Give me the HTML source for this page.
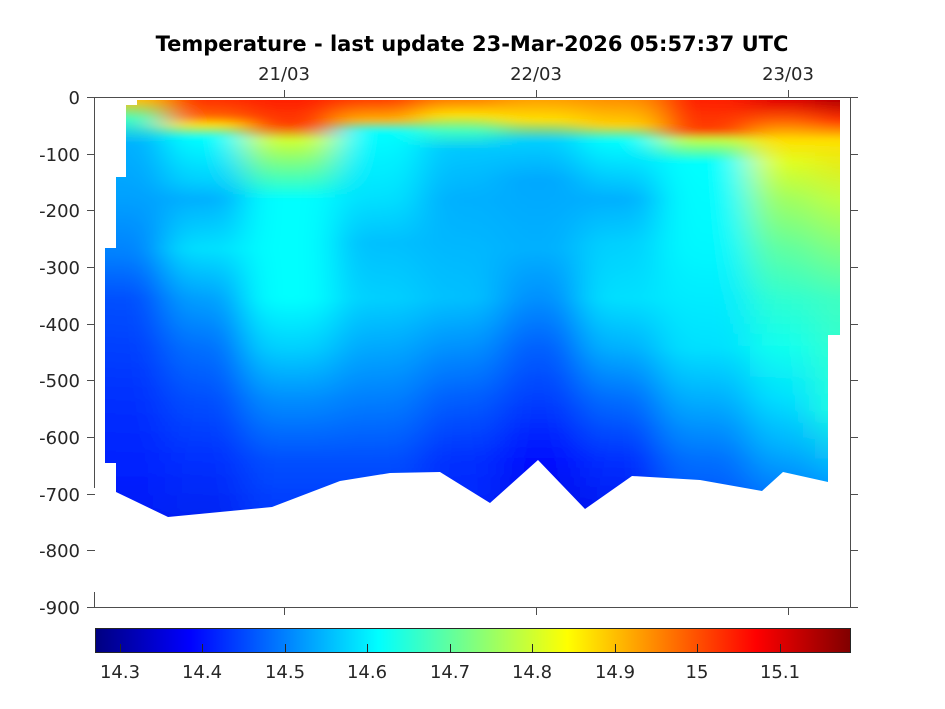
<!DOCTYPE html>
<html><head><meta charset="utf-8"><style>
html,body{margin:0;padding:0;background:#fff;}
svg{display:block;font-family:"DejaVu Sans","Liberation Sans",sans-serif;}
</style></head><body>
<svg width="945" height="709" viewBox="0 0 945 709" xmlns="http://www.w3.org/2000/svg">
<defs>
<linearGradient id="c0" x1="0" y1="100" x2="0" y2="720" gradientUnits="userSpaceOnUse">
<stop offset="0" stop-color="#ffc000"/><stop offset="0.03" stop-color="#40ffc0"/><stop offset="0.07" stop-color="#00b0ff"/><stop offset="0.16" stop-color="#00a0ff"/><stop offset="0.25" stop-color="#0080ff"/><stop offset="0.32" stop-color="#0050ff"/><stop offset="0.48" stop-color="#0030ff"/><stop offset="0.6" stop-color="#0020ff"/><stop offset="0.75" stop-color="#0010f0"/><stop offset="1" stop-color="#0000d0"/></linearGradient>
<linearGradient id="c1" x1="0" y1="100" x2="0" y2="720" gradientUnits="userSpaceOnUse">
<stop offset="0" stop-color="#ff3000"/><stop offset="0.025" stop-color="#ff6000"/><stop offset="0.04" stop-color="#ffe000"/><stop offset="0.06" stop-color="#00ffff"/><stop offset="0.13" stop-color="#00d0ff"/><stop offset="0.16" stop-color="#00b0ff"/><stop offset="0.24" stop-color="#00e0ff"/><stop offset="0.32" stop-color="#00a0ff"/><stop offset="0.4" stop-color="#0070ff"/><stop offset="0.48" stop-color="#0050ff"/><stop offset="0.58" stop-color="#0030ff"/><stop offset="0.7" stop-color="#0020f0"/><stop offset="1" stop-color="#0000c0"/></linearGradient>
<linearGradient id="c2" x1="0" y1="100" x2="0" y2="720" gradientUnits="userSpaceOnUse">
<stop offset="0" stop-color="#ff2000"/><stop offset="0.04" stop-color="#ff4000"/><stop offset="0.065" stop-color="#d0ff30"/><stop offset="0.1" stop-color="#80ff80"/><stop offset="0.16" stop-color="#00ffff"/><stop offset="0.32" stop-color="#00ffff"/><stop offset="0.4" stop-color="#00d0ff"/><stop offset="0.48" stop-color="#0090ff"/><stop offset="0.58" stop-color="#0050ff"/><stop offset="0.7" stop-color="#0030ff"/><stop offset="1" stop-color="#0010e0"/></linearGradient>
<linearGradient id="c3" x1="0" y1="100" x2="0" y2="720" gradientUnits="userSpaceOnUse">
<stop offset="0" stop-color="#ff4000"/><stop offset="0.032" stop-color="#ffb000"/><stop offset="0.05" stop-color="#00ffff"/><stop offset="0.16" stop-color="#00e0ff"/><stop offset="0.23" stop-color="#00c0ff"/><stop offset="0.32" stop-color="#00d0ff"/><stop offset="0.48" stop-color="#0080ff"/><stop offset="0.58" stop-color="#0050ff"/><stop offset="0.7" stop-color="#0030ff"/><stop offset="1" stop-color="#0010e0"/></linearGradient>
<linearGradient id="c4" x1="0" y1="100" x2="0" y2="720" gradientUnits="userSpaceOnUse">
<stop offset="0" stop-color="#ff8000"/><stop offset="0.024" stop-color="#ffe000"/><stop offset="0.05" stop-color="#40ffc0"/><stop offset="0.08" stop-color="#00c8ff"/><stop offset="0.16" stop-color="#00b0ff"/><stop offset="0.32" stop-color="#00c0ff"/><stop offset="0.4" stop-color="#0090ff"/><stop offset="0.48" stop-color="#0060ff"/><stop offset="0.58" stop-color="#0030ff"/><stop offset="0.7" stop-color="#0020ff"/><stop offset="1" stop-color="#0000c0"/></linearGradient>
<linearGradient id="c5" x1="0" y1="100" x2="0" y2="720" gradientUnits="userSpaceOnUse">
<stop offset="0" stop-color="#ffa000"/><stop offset="0.032" stop-color="#ffe000"/><stop offset="0.065" stop-color="#00d0ff"/><stop offset="0.13" stop-color="#00a8ff"/><stop offset="0.24" stop-color="#00b0ff"/><stop offset="0.32" stop-color="#0090ff"/><stop offset="0.4" stop-color="#0060ff"/><stop offset="0.48" stop-color="#0040ff"/><stop offset="0.58" stop-color="#0010ff"/><stop offset="0.7" stop-color="#0000e0"/><stop offset="1" stop-color="#000080"/></linearGradient>
<linearGradient id="c6" x1="0" y1="100" x2="0" y2="720" gradientUnits="userSpaceOnUse">
<stop offset="0" stop-color="#ff9000"/><stop offset="0.04" stop-color="#ffd000"/><stop offset="0.065" stop-color="#00ffff"/><stop offset="0.16" stop-color="#00b0ff"/><stop offset="0.23" stop-color="#00d0ff"/><stop offset="0.32" stop-color="#00e0ff"/><stop offset="0.4" stop-color="#00b0ff"/><stop offset="0.48" stop-color="#0070ff"/><stop offset="0.58" stop-color="#0030ff"/><stop offset="0.7" stop-color="#0010f0"/><stop offset="1" stop-color="#0000a0"/></linearGradient>
<linearGradient id="c7" x1="0" y1="100" x2="0" y2="720" gradientUnits="userSpaceOnUse">
<stop offset="0" stop-color="#ff2000"/><stop offset="0.048" stop-color="#ff4000"/><stop offset="0.065" stop-color="#c0ff40"/><stop offset="0.1" stop-color="#00ffff"/><stop offset="0.24" stop-color="#00f8ff"/><stop offset="0.4" stop-color="#00e0ff"/><stop offset="0.48" stop-color="#00b0ff"/><stop offset="0.58" stop-color="#0070ff"/><stop offset="0.7" stop-color="#0040ff"/><stop offset="1" stop-color="#0010e0"/></linearGradient>
<linearGradient id="c8" x1="0" y1="100" x2="0" y2="720" gradientUnits="userSpaceOnUse">
<stop offset="0" stop-color="#e00000"/><stop offset="0.032" stop-color="#ff6000"/><stop offset="0.065" stop-color="#ffe000"/><stop offset="0.1" stop-color="#e0ff20"/><stop offset="0.16" stop-color="#a0ff60"/><stop offset="0.24" stop-color="#60ffa0"/><stop offset="0.32" stop-color="#30ffd0"/><stop offset="0.4" stop-color="#10ffef"/><stop offset="0.48" stop-color="#00e0ff"/><stop offset="0.56" stop-color="#00b0ff"/><stop offset="0.65" stop-color="#0070ff"/><stop offset="1" stop-color="#0040ff"/></linearGradient>
<linearGradient id="c9" x1="0" y1="100" x2="0" y2="720" gradientUnits="userSpaceOnUse">
<stop offset="0" stop-color="#b00000"/><stop offset="0.032" stop-color="#ff3000"/><stop offset="0.065" stop-color="#ffe000"/><stop offset="0.16" stop-color="#c0ff40"/><stop offset="0.32" stop-color="#40ffc0"/><stop offset="0.5" stop-color="#20ffe0"/><stop offset="0.6" stop-color="#00b0ff"/><stop offset="0.7" stop-color="#0060ff"/><stop offset="1" stop-color="#0040ff"/></linearGradient>
<linearGradient id="jet" x1="0" y1="0" x2="1" y2="0">
<stop offset="0" stop-color="#000080"/><stop offset="0.125" stop-color="#0000ff"/><stop offset="0.375" stop-color="#00ffff"/><stop offset="0.625" stop-color="#ffff00"/><stop offset="0.875" stop-color="#ff0000"/><stop offset="1" stop-color="#800000"/></linearGradient>
<filter id="bl" x="-0.1" y="-0.1" width="1.2" height="1.2"><feGaussianBlur stdDeviation="18 3"/></filter>
<clipPath id="cp"><polygon points="137,100 840,100 840,335 828,335 828,482 783,472 762,491 700,480 632,476 585,509 538,460 490,503 440,472 390,473 340,481 272,507 168,517 116,492 116,463 105,463 105,248 116,248 116,177 126,177 126,105 137,105"/></clipPath>
</defs>
<g clip-path="url(#cp)">
<g filter="url(#bl)">
<rect x="60" y="90" width="105" height="640" fill="url(#c0)"/>
<rect x="165" y="90" width="80" height="640" fill="url(#c1)"/>
<rect x="245" y="90" width="90" height="640" fill="url(#c2)"/>
<rect x="335" y="90" width="85" height="640" fill="url(#c3)"/>
<rect x="420" y="90" width="80" height="640" fill="url(#c4)"/>
<rect x="500" y="90" width="80" height="640" fill="url(#c5)"/>
<rect x="580" y="90" width="80" height="640" fill="url(#c6)"/>
<rect x="660" y="90" width="90" height="640" fill="url(#c7)"/>
<rect x="750" y="90" width="65" height="640" fill="url(#c8)"/>
<rect x="815" y="90" width="80" height="640" fill="url(#c9)"/>
</g>
</g>
<g stroke="#4d4d4d" stroke-width="1" fill="none">
<line x1="95" y1="97.5" x2="850" y2="97.5"/>
<line x1="95" y1="607.5" x2="858" y2="607.5"/>
<line x1="94.5" y1="97" x2="94.5" y2="488"/>
<line x1="94.5" y1="592" x2="94.5" y2="608"/>
<line x1="850.5" y1="97" x2="850.5" y2="608"/>
<path d="M87,97.5H95M87,154.5H95M87,210.5H95M87,267.5H95M87,324.5H95M87,380.5H95M87,437.5H95M87,494.5H95M87,550.5H95M87,607.5H95"/>
<path d="M850,97.5H858M850,154.5H858M850,210.5H858M850,267.5H858M850,324.5H858M850,380.5H858M850,437.5H858M850,494.5H858M850,550.5H858"/>
<path d="M284.5,90V97M536.5,90V97M788.5,90V97M284.5,607V615M536.5,607V615M788.5,607V615"/>
</g>
<rect x="95.5" y="628.5" width="755" height="24" fill="url(#jet)" stroke="#262626" stroke-width="1"/>
<path d="M120.5,652V644M202.5,652V644M285.5,652V644M367.5,652V644M450.5,652V644M532.5,652V644M615.5,652V644M697.5,652V644M780.5,652V644" stroke="#262626" stroke-width="1"/>
<text x="472" y="51" text-anchor="middle" font-size="21" font-weight="bold" fill="#000">Temperature - last update 23-Mar-2026 05:57:37 UTC</text>
<g font-size="18" fill="#262626" text-anchor="end">
<text x="80" y="104">0</text><text x="80" y="161">-100</text><text x="80" y="217">-200</text><text x="80" y="274">-300</text><text x="80" y="331">-400</text><text x="80" y="387">-500</text><text x="80" y="444">-600</text><text x="80" y="501">-700</text><text x="80" y="557">-800</text><text x="80" y="614">-900</text>
</g>
<g font-size="18" fill="#262626" text-anchor="middle">
<text x="284" y="80">21/03</text><text x="536" y="80">22/03</text><text x="788" y="80">23/03</text>
<text x="120" y="678">14.3</text><text x="202" y="678">14.4</text><text x="285" y="678">14.5</text><text x="367" y="678">14.6</text><text x="450" y="678">14.7</text><text x="532" y="678">14.8</text><text x="615" y="678">14.9</text><text x="697" y="678">15</text><text x="780" y="678">15.1</text>
</g>
</svg>
</body></html>
